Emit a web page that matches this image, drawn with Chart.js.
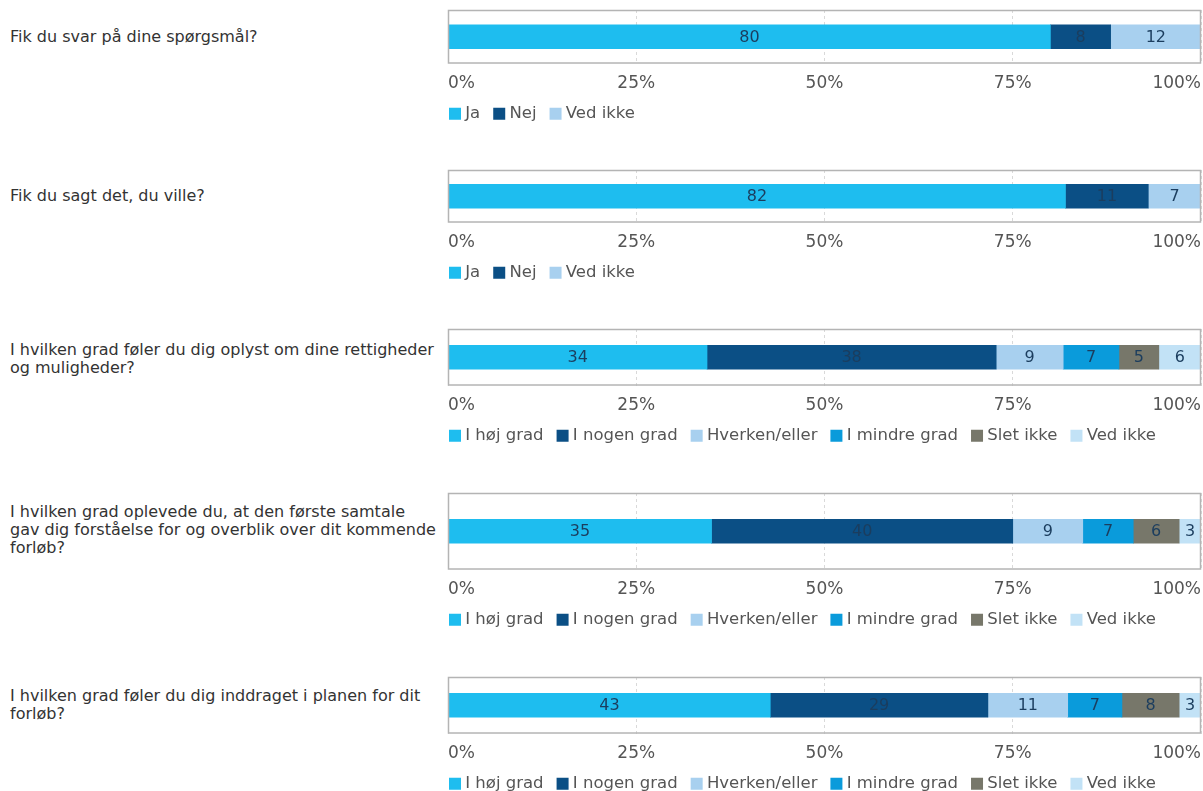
<!DOCTYPE html>
<html>
<head>
<meta charset="utf-8">
<script src="https://cdn.jsdelivr.net/npm/chart.js@4.4.1/dist/chart.umd.min.js"></script>
<style>
  html, body { margin: 0; padding: 0; background: #fff; }
  #page { position: relative; width: 1203px; height: 791px; overflow: hidden; font-family: "DejaVu Sans", Verdana, sans-serif; }
  .q { position: absolute; left: 10px; font-size: 16px; line-height: 18px; color: #333; white-space: nowrap; }
  canvas { position: absolute; left: 436px; }
</style>
</head>
<body>
<div id="page"></div>
<script>
// questions (line breaks as in the report)
const questions = [
  ["Fik du svar på dine spørgsmål?"],
  ["Fik du sagt det, du ville?"],
  ["I hvilken grad føler du dig oplyst om dine rettigheder", "og muligheder?"],
  ["I hvilken grad oplevede du, at den første samtale", "gav dig forståelse for og overblik over dit kommende", "forløb?"],
  ["I hvilken grad føler du dig inddraget i planen for dit", "forløb?"]
];

const catsYesNo = ["Ja", "Nej", "Ved ikke"];
const catsDegree = ["I høj grad", "I nogen grad", "Hverken/eller", "I mindre grad", "Slet ikke", "Ved ikke"];

// percentages per question (segments)
const values1 = [80, 8, 12];
const values2 = [82, 11, 7];
const values3 = [34.4, 38.4, 8.9, 7.4, 5.3, 5.6];
const values4 = [35, 40, 9.3, 6.7, 6.1, 2.9];
const values5 = [42.8, 28.9, 10.6, 7.2, 7.6, 2.9];

const tickLabels = ["0%", "25%", "50%", "75%", "100%"];

const colorsYesNo = ["#1ebdef", "#0b4f85", "#a8d0ef"];
const colorsDegree = ["#1ebdef", "#0b4f85", "#a8d0ef", "#0a9bdb", "#77776a", "#c2e2f6"];

// layout of the five panels
const boxTops = [10, 170, 329, 493, 677];
const boxHeights = [53, 52, 56, 76, 56];
const barCenters = [37, 196, 359, 530, 705];

const panels = [
  { cats: catsYesNo, vals: values1, colors: colorsYesNo },
  { cats: catsYesNo, vals: values2, colors: colorsYesNo },
  { cats: catsDegree, vals: values3, colors: colorsDegree },
  { cats: catsDegree, vals: values4, colors: colorsDegree },
  { cats: catsDegree, vals: values5, colors: colorsDegree }
];

const FAMILY = "'DejaVu Sans', Verdana, sans-serif";

const boxPlugin = {
  id: "boxBorder",
  afterDraw(chart) {
    const { ctx, chartArea: a } = chart;
    ctx.save();
    ctx.strokeStyle = "#b4b4b4";
    ctx.lineWidth = 1.5;
    ctx.strokeRect(a.left + 0.5, a.top + 0.5, a.right - a.left - 1, a.bottom - a.top - 1);
    ctx.restore();
  }
};

const valueLabels = {
  id: "valueLabels",
  afterDatasetsDraw(chart) {
    const { ctx } = chart;
    ctx.save();
    ctx.font = "16px " + FAMILY;
    ctx.fillStyle = "#1b3d5e";
    ctx.textAlign = "center";
    ctx.textBaseline = "middle";
    chart.data.datasets.forEach((ds, i) => {
      const bar = chart.getDatasetMeta(i).data[0];
      const cx = (bar.x + bar.base) / 2;
      ctx.fillText(Math.round(ds.data[0]), cx, bar.y + 1);
    });
    ctx.restore();
  }
};

const page = document.getElementById("page");

panels.forEach((p, k) => {
  const q = document.createElement("div");
  q.className = "q";
  q.innerHTML = questions[k].join("<br>");
  q.style.top = (barCenters[k] - questions[k].length * 9) + "px";
  page.appendChild(q);

  const canvas = document.createElement("canvas");
  canvas.width = 767;
  canvas.height = boxHeights[k] + 70;
  canvas.style.top = (boxTops[k] - 1) + "px";
  page.appendChild(canvas);

  new Chart(canvas, {
    type: "bar",
    data: {
      labels: [""],
      datasets: p.cats.map((c, i) => ({
        label: c,
        data: [p.vals[i]],
        backgroundColor: p.colors[i],
        borderWidth: 0,
        barThickness: 24
      }))
    },
    options: {
      indexAxis: "y",
      responsive: false,
      animation: false,
      devicePixelRatio: 1,
      layout: { padding: { left: 0, right: 2, top: 1, bottom: 0 } },
      scales: {
        x: {
          stacked: true,
          min: 0,
          max: 100,
          afterFit(axis) { axis.height = 25; },
          ticks: {
            stepSize: 25,
            align: "inner",
            padding: 0,
            color: "#555",
            font: { family: FAMILY, size: 17 },
            callback: (v, i) => tickLabels[i]
          },
          grid: { color: "#d9d9d9", drawTicks: true, tickLength: 10, tickColor: "rgba(0,0,0,0)" },
          border: { display: false, dash: [3, 3] }
        },
        y: {
          stacked: true,
          afterFit(axis) { axis.width = 12; },
          ticks: { display: false },
          grid: { display: false },
          border: { display: false }
        }
      },
      plugins: {
        legend: {
          position: "bottom",
          align: "start",
          labels: {
            usePointStyle: true,
            pointStyle: "rect",
            boxWidth: 4,
            boxHeight: 12,
            padding: 17,
            color: "#555",
            font: { family: FAMILY, size: 16.5 }
          }
        },
        tooltip: { enabled: false }
      }
    },
    plugins: [boxPlugin, valueLabels]
  });
});
</script>
</body>
</html>
